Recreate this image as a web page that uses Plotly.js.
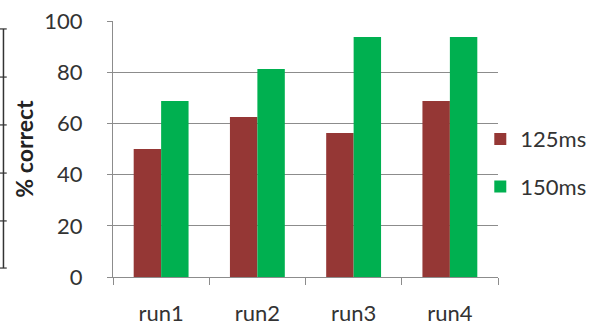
<!DOCTYPE html>
<html>
<head>
<meta charset="utf-8">
<script src="https://cdn.plot.ly/plotly-3.0.1.min.js"></script>
<style>html,body{margin:0;padding:0;background:#fff;}#chart{width:598px;height:326px;}</style>
</head>
<body>
<div id="chart"></div>
<script>
const categories = ['run1', 'run2', 'run3', 'run4'];
const seriesNames = ['125ms', '150ms'];
const values125 = [50, 62.5, 56.25, 68.75];
const values150 = [68.75, 81.25, 93.75, 93.75];
const yTicks = [0, 20, 40, 60, 80, 100];

const font = 'Lato, "Open Sans", sans-serif';
const traces = [
  {type: 'bar', name: seriesNames[0], x: categories, y: values125,
   marker: {color: '#953735'}, legendgroup: 'a', hoverinfo: 'skip'},
  {type: 'bar', name: seriesNames[1], x: categories, y: values150,
   marker: {color: '#00B050'}, legendgroup: 'b', hoverinfo: 'skip'}
];

// stray axis fragment at the far left of the reference picture
const shapes = [{type: 'line', xref: 'paper', yref: 'paper', x0: -0.2845, x1: -0.2845, y0: 0.035, y1: 0.969, line: {color: '#333', width: 1.5}}];
[0.969, 0.781, 0.594, 0.406, 0.219, 0.035].forEach(function (yy) {
  shapes.push({type: 'line', xref: 'paper', yref: 'paper', x0: -0.2935, x1: -0.276, y0: yy, y1: yy, line: {color: '#333', width: 1.2}});
});

const layout = {
  width: 598, height: 326,
  margin: {l: 113, r: 100, t: 21, b: 49, pad: 0, autoexpand: false},
  paper_bgcolor: '#fff', plot_bgcolor: '#fff',
  font: {family: font, size: 22, color: '#333'},
  barmode: 'group', bargap: 0.43, bargroupgap: 0,
  showlegend: true,
  legend: {x: 0.954, y: 0.445, xanchor: 'left', yanchor: 'middle', bgcolor: 'rgba(0,0,0,0)',
           font: {family: font, size: 22, color: '#333'}, traceorder: 'grouped', tracegroupgap: 16,
           itemwidth: 30},
  xaxis: {type: 'category', tickmode: 'array', tickvals: categories, ticktext: categories,
          showline: true, linecolor: '#8c8c8c', linewidth: 1,
          ticks: 'outside', ticklen: 7, tickcolor: '#8c8c8c', tickson: 'boundaries',
          showgrid: false, zeroline: false, ticklabelstandoff: 17,
          tickfont: {family: font, size: 22, color: '#333'}},
  yaxis: {range: [0, 100], tickmode: 'array', tickvals: yTicks, ticktext: yTicks.map(String),
          showline: true, linecolor: '#8c8c8c', linewidth: 1,
          ticks: 'outside', ticklen: 5, tickcolor: '#8c8c8c',
          showgrid: true, gridcolor: '#8c8c8c', gridwidth: 1, zeroline: false,
          ticklabelstandoff: 20,
          tickfont: {family: font, size: 22, color: '#333'},
          title: {text: '<b>% correct</b>', standoff: 4, font: {family: font, size: 23, color: '#222'}}},
  shapes: shapes
};

Plotly.newPlot('chart', traces, layout, {staticPlot: true, displayModeBar: false});
</script>
</body>
</html>
